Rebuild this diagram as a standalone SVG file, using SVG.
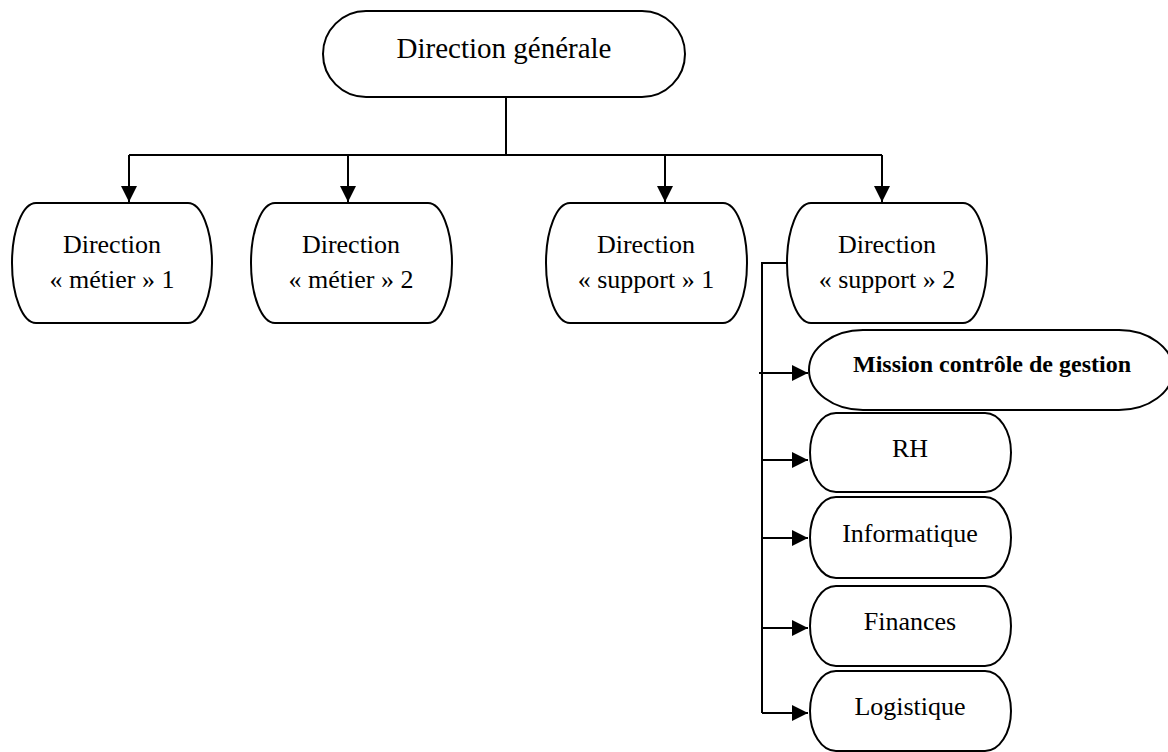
<svg xmlns="http://www.w3.org/2000/svg" width="1168" height="752" viewBox="0 0 1168 752">
<style>
.n{fill:#fff;stroke:#000;stroke-width:2}
.t{font-family:"Liberation Serif","Times New Roman",serif;font-size:26px;fill:#000;text-anchor:middle}
.big{font-size:29px}
.b{font-weight:bold;font-size:24px}
.c{fill:none;stroke:#000;stroke-width:2}
</style>
<defs>
<marker id="ah" markerUnits="userSpaceOnUse" markerWidth="16" markerHeight="16" viewBox="0 0 16 16" refX="16" refY="8" orient="auto">
<path d="M0,0 L16,8 L0,16 Z" fill="#000"/>
</marker>
</defs>
<g id="connectors">
<path class="c" d="M506,97 V155"/>
<path class="c" d="M129,155 H882"/>
<path class="c" d="M129,155 V202" marker-end="url(#ah)"/>
<path class="c" d="M348,155 V202" marker-end="url(#ah)"/>
<path class="c" d="M665,155 V202" marker-end="url(#ah)"/>
<path class="c" d="M882,155 V202" marker-end="url(#ah)"/>
<path class="c" d="M787,263 H762 V713"/>
<path class="c" d="M759,373 H808" marker-end="url(#ah)"/>
<path class="c" d="M762,460 H808" marker-end="url(#ah)"/>
<path class="c" d="M762,538 H808" marker-end="url(#ah)"/>
<path class="c" d="M762,628 H808" marker-end="url(#ah)"/>
<path class="c" d="M762,713 H808" marker-end="url(#ah)"/>
</g>
<g id="dg">
<rect class="n" x="323" y="11" width="362" height="86" rx="43" ry="43"/>
<text class="t big" x="504" y="58">Direction générale</text>
</g>
<g id="metier1">
<rect class="n" x="12" y="203" width="200" height="120" rx="24" ry="60"/>
<text class="t" x="112" y="253">Direction</text>
<text class="t" x="112" y="288">« métier » 1</text>
</g>
<g id="metier2">
<rect class="n" x="251" y="203" width="201" height="120" rx="24" ry="60"/>
<text class="t" x="351" y="253">Direction</text>
<text class="t" x="351" y="288">« métier » 2</text>
</g>
<g id="support1">
<rect class="n" x="546" y="203" width="201" height="120" rx="24" ry="60"/>
<text class="t" x="646" y="253">Direction</text>
<text class="t" x="646" y="288">« support » 1</text>
</g>
<g id="support2">
<rect class="n" x="787" y="203" width="200" height="120" rx="24" ry="60"/>
<text class="t" x="887" y="253">Direction</text>
<text class="t" x="887" y="288">« support » 2</text>
</g>
<g id="mission">
<rect class="n" x="809" y="330" width="364" height="80" rx="54" ry="40"/>
<text class="t b" x="992" y="372">Mission contrôle de gestion</text>
</g>
<g id="rh">
<rect class="n" x="810" y="413" width="201" height="79" rx="26" ry="39.5"/>
<text class="t" x="910" y="457">RH</text>
</g>
<g id="informatique">
<rect class="n" x="810" y="497" width="201" height="81" rx="26" ry="40.5"/>
<text class="t" x="910" y="542">Informatique</text>
</g>
<g id="finances">
<rect class="n" x="810" y="586" width="201" height="80" rx="26" ry="40"/>
<text class="t" x="910" y="630">Finances</text>
</g>
<g id="logistique">
<rect class="n" x="810" y="671" width="201" height="80" rx="26" ry="40"/>
<text class="t" x="910" y="715">Logistique</text>
</g>
</svg>
